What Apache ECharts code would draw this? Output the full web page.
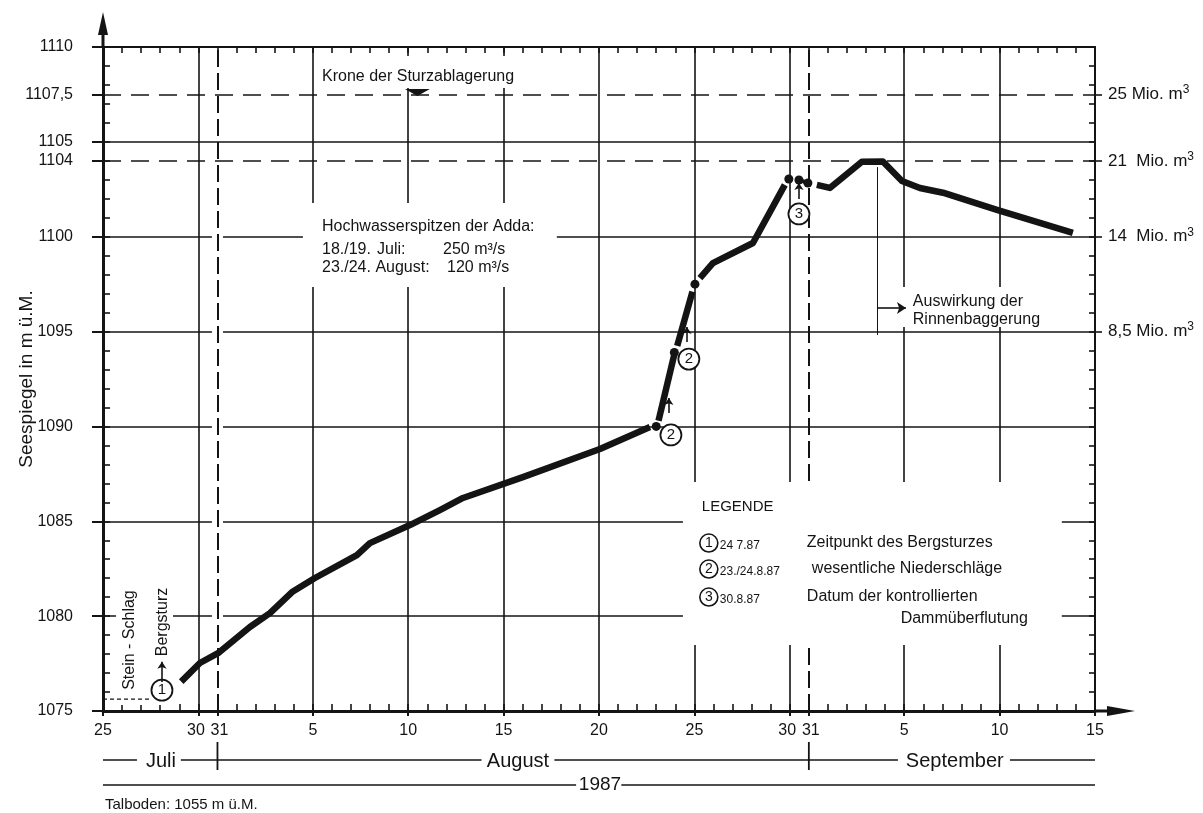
<!DOCTYPE html>
<html>
<head>
<meta charset="utf-8">
<script src="https://cdn.jsdelivr.net/npm/echarts@6/dist/echarts.min.js"></script>
<style>
html,body{margin:0;padding:0;background:#fff;}
#chart{width:1203px;height:813px;}
</style>
</head>
<body>
<div id="chart"></div>
<script>
// ---------------- DATA (x = day index, 0 = 25 July 1987) ----------------
const xTickDays   = [0, 5, 6, 11, 16, 21, 26, 31, 36, 37, 42, 47, 52];
const xTickLabels = ['25', '30', '31', '5', '10', '15', '20', '25', '30', '31', '5', '10', '15'];
const yTickValues = [1075, 1080, 1085, 1090, 1095, 1100, 1104, 1105, 1107.5, 1110];
const volumeLevels = [1107.5, 1104, 1100, 1095];
const volumeLabels = ['25 Mio. m', '21  Mio. m', '14  Mio. m', '8,5 Mio. m'];
const gridLevelsSolid  = [1080, 1085, 1090, 1095, 1100, 1105];
const gridLevelsDashed = [1104, 1107.5];
const gridDaysSolid    = [5, 11, 16, 21, 26, 31, 36, 42, 47];
const monthDividerDays = [6, 37];

// lake level (m ü.M.)
const levelRise1 = [[4.1,1076.55],[5.08,1077.53],[6.03,1078.05],[7.7,1079.43],[8.75,1080.16],[9.91,1081.27],
  [11.11,1082.01],[13.31,1083.22],[13.99,1083.85],[16.09,1084.8],[17.66,1085.59],[18.87,1086.23],
  [22.01,1087.33],[26.05,1088.81],[28.67,1089.97]];
const levelRise2 = [[29.12,1090.3],[29.95,1093.8]];
const levelRise3 = [[30.1,1094.25],[30.9,1097.1]];
const levelRise4 = [[31.29,1097.82],[31.97,1098.61],[34.07,1099.67],[35.74,1102.73]];
const levelOverflow = [[35.95,1103.04],[36.48,1102.99],[36.95,1102.83]];
const levelAfter = [[37.42,1102.73],[38.1,1102.57],[39.78,1103.95],[40.88,1103.97],[41.88,1102.94],
  [42.82,1102.57],[44.03,1102.32],[46.86,1101.41],[50.84,1100.2]];
const measuredPoints = [[29.0,1090.0],[29.95,1093.9],[31.03,1097.5],[35.95,1103.04],[36.48,1102.99],[36.95,1102.83]];
const eventMarks = [[3.09,1076.1,'1'],[29.77,1089.55,'2'],[30.71,1093.55,'2'],[36.48,1101.2,'3']];
const eventArrows = [[3.09,1076.53,3.09,1077.6],[29.66,1090.71,29.66,1091.5],[30.61,1094.45,30.61,1095.24],[36.48,1101.99,36.48,1102.83]];

// ---------------- STYLE ----------------
const INK = '#141414';
const FONT = "'Liberation Sans', Arial, Helvetica, sans-serif";

const chart = echarts.init(document.getElementById('chart'));

function tickLabelFor(v) {
  const i = xTickDays.findIndex(d => Math.abs(d - v) < 1e-6);
  if (i < 0) return '';
  const t = xTickLabels[i];
  if (i + 1 < xTickDays.length && xTickDays[i + 1] - v === 1) return '{l|' + t + '}';
  if (i > 0 && v - xTickDays[i - 1] === 1) return '{r|' + t + '}';
  return t;
}

const lineSeg = (data) => ({
  type: 'line', data, symbol: 'none', z: 3, silent: true,
  lineStyle: {color: INK, width: 6.5, cap: 'butt', join: 'round'}
});

const tickFont = {color: INK, fontSize: 16, fontFamily: FONT};

const option = {
  animation: false,
  backgroundColor: '#fff',
  grid: {left: 103, right: 108, top: 47, bottom: 102, outerBoundsMode: 'none', containLabel: false},
  xAxis: [
    {type: 'value', position: 'bottom', min: 0, max: 52,
      axisLine: {onZero: false, lineStyle: {color: INK, width: 3}},
      axisTick: {customValues: xTickDays, length: 5, lineStyle: {color: INK, width: 2}},
      axisLabel: Object.assign({customValues: xTickDays, formatter: tickLabelFor, margin: 12,
        rich: {l: Object.assign({padding: [0, 5, 0, 0]}, tickFont), r: Object.assign({padding: [0, 0, 0, 4]}, tickFont)}}, tickFont),
      splitLine: {show: false}},
    {type: 'value', position: 'bottom', min: 0, max: 52, interval: 1,
      axisLine: {show: false, onZero: false},
      axisTick: {inside: true, length: 7, lineStyle: {color: INK, width: 1.6}},
      axisLabel: {show: false}, splitLine: {show: false}},
    {type: 'value', position: 'top', min: 0, max: 52, interval: 1,
      axisLine: {onZero: false, lineStyle: {color: INK, width: 2}},
      axisTick: {inside: true, length: 6, lineStyle: {color: INK, width: 1.6}},
      axisLabel: {show: false}, splitLine: {show: false}}
  ],
  yAxis: [
    {type: 'value', position: 'left', min: 1075, max: 1110,
      name: 'Seespiegel in m ü.M.', nameLocation: 'middle', nameGap: 67, nameRotate: 90,
      nameMoveOverlap: false,
      nameTextStyle: {color: INK, fontSize: 19, fontFamily: FONT},
      axisLine: {onZero: false, lineStyle: {color: INK, width: 3}},
      axisTick: {customValues: yTickValues, length: 11, lineStyle: {color: INK, width: 2}},
      axisLabel: Object.assign({customValues: yTickValues, formatter: v => String(v).replace('.', ','), margin: 30}, tickFont),
      splitLine: {show: false}},
    {type: 'value', position: 'left', min: 1075, max: 1110, interval: 1,
      axisLine: {show: false, onZero: false},
      axisTick: {inside: true, length: 7, lineStyle: {color: INK, width: 1.6}},
      axisLabel: {show: false}, splitLine: {show: false}},
    {type: 'value', position: 'right', min: 1075, max: 1110, interval: 1,
      axisLine: {onZero: false, lineStyle: {color: INK, width: 2}},
      axisTick: {inside: true, length: 6, lineStyle: {color: INK, width: 1.6}},
      axisLabel: {show: false}, splitLine: {show: false}},
    {type: 'value', position: 'right', min: 1075, max: 1110,
      axisLine: {show: false, onZero: false},
      axisTick: {customValues: volumeLevels, length: 7, lineStyle: {color: INK, width: 1.6}},
      axisLabel: {customValues: volumeLevels, margin: 13,
        formatter: v => '{a|' + volumeLabels[volumeLevels.indexOf(v)] + '}{s|3}',
        rich: {a: {fontSize: 17, fontFamily: FONT, color: INK},
               s: {fontSize: 12, fontFamily: FONT, color: INK, padding: [0, 0, 9, 0]}}},
      splitLine: {show: false}}
  ],
  series: [
    {type: 'line', data: [], silent: true,
      markLine: {z: 1, silent: true, symbol: 'none', label: {show: false}, emphasis: {disabled: true},
        lineStyle: {color: INK, width: 1.6, type: 'solid'},
        data: [].concat(
          gridLevelsSolid.map(v => ({yAxis: v})),
          gridLevelsDashed.map(v => ({yAxis: v, lineStyle: {color: INK, width: 1.6, type: [18, 10]}})),
          gridDaysSolid.map(d => ({xAxis: d}))
        )}},
    {type: 'line', data: [], silent: true,
      markLine: {z: 1.7, silent: true, symbol: 'none', label: {show: false}, emphasis: {disabled: true},
        lineStyle: {color: INK, width: 2, type: [17, 6]},
        data: monthDividerDays.map(d => ({xAxis: d}))}},
    lineSeg(levelRise1), lineSeg(levelRise2), lineSeg(levelRise3), lineSeg(levelRise4), lineSeg(levelAfter),
    {type: 'line', data: levelOverflow, symbol: 'none', z: 3, silent: true,
      lineStyle: {color: INK, width: 4, type: [4, 3]}},
    {type: 'scatter', data: measuredPoints, symbol: 'circle', symbolSize: 9, z: 4, silent: true,
      itemStyle: {color: INK, opacity: 1}},
    {type: 'scatter', z: 6, silent: true,
      data: eventMarks.map(m => ({value: [m[0], m[1]], label: {formatter: m[2]}})),
      symbol: 'circle', symbolSize: 21,
      itemStyle: {color: '#fff', borderColor: INK, borderWidth: 1.8, opacity: 1},
      label: {show: true, position: 'inside', color: INK, fontSize: 15, fontFamily: FONT}},
    {type: 'line', data: [], silent: true,
      markLine: {z: 8, silent: true, symbol: ['none', 'arrow'], symbolSize: 7, label: {show: false},
        emphasis: {disabled: true},
        lineStyle: {color: INK, width: 1.6, type: 'solid'},
        data: eventArrows.map(a => [{coord: [a[0], a[1]]}, {coord: [a[2], a[3]]}]).concat([
          [{coord: [40.57, 1103.67], symbol: 'none'}, {coord: [40.57, 1094.82], symbol: 'none', lineStyle: {color: INK, width: 1, type: 'solid'}}],
          [{coord: [40.57, 1096.24]}, {coord: [42.09, 1096.24], symbolSize: 9}]
        ])}}
  ]
};
chart.setOption(option);

// ---------------- annotations (positions through the axes) ----------------
(function () {
  const P = (d, v) => chart.convertToPixel({xAxisIndex: 0, yAxisIndex: 0}, [d, v]);
  const g = [];
  function T(x, y, text, o) {
    o = o || {};
    g.push({type: 'text', x, y, z: 20, silent: true, rotation: o.rot || 0,
      style: {text, fill: INK, font: (o.size || 16) + 'px ' + FONT,
        textAlign: o.align || 'left', align: o.align || 'left',
        textVerticalAlign: 'middle', verticalAlign: 'middle'}});
  }
  function Ln(x1, y1, x2, y2, w, dash) {
    g.push({type: 'line', z: 20, silent: true, shape: {x1, y1, x2, y2},
      style: {stroke: INK, lineWidth: w || 1.6, lineDash: dash || null}});
  }
  function Poly(points) {
    g.push({type: 'polygon', z: 20, silent: true, shape: {points}, style: {fill: INK}});
  }
  function WhiteBox(d1, v1, d2, v2, z) {
    const a = P(d1, v1), b = P(d2, v2);
    g.push({type: 'rect', z: z || 1.8, silent: true,
      shape: {x: Math.min(a[0], b[0]), y: Math.min(a[1], b[1]), width: Math.abs(b[0] - a[0]), height: Math.abs(b[1] - a[1])},
      style: {fill: '#fff'}});
  }

  // label areas interrupting the grid
  WhiteBox(11.27, 1109.53, 22.64, 1107.84);
  WhiteBox(10.48, 1101.78, 23.79, 1097.35);
  WhiteBox(40.93, 1097.35, 50.26, 1095.24);
  WhiteBox(30.40, 1087.07, 50.26, 1078.48);
  WhiteBox(0.68, 1081.74, 3.67, 1075.31);
  // small breaks of the level lines at the 31 July divider
  [1080, 1085, 1090, 1095, 1100].forEach(v => WhiteBox(5.71, v + 0.12, 6.29, v - 0.12, 1.5));

  const origin = P(0, 1075), corner = P(52, 1110);
  const ax = origin[0], ay = origin[1], rightX = corner[0], topY = corner[1];
  Ln(ax, topY, ax, topY - 13, 3);
  Poly([[ax - 5, topY - 12], [ax + 5, topY - 12], [ax, topY - 35]]);
  Ln(rightX, ay, rightX + 13, ay, 3);
  Poly([[rightX + 12, ay - 5], [rightX + 12, ay + 5], [rightX + 40, ay]]);

  monthDividerDays.forEach(d => { const x = P(d, 1075)[0]; Ln(x, ay + 31, x, ay + 59, 1.8); });
  const rowM = ay + 49, rowY = ay + 74;
  [[0, 1.78], [4.08, 19.84], [23.66, 41.67], [47.54, 52]].forEach(s => Ln(P(s[0], 1075)[0], rowM, P(s[1], 1075)[0], rowM, 1.5));
  [[0, 24.8], [27.17, 52]].forEach(s => Ln(P(s[0], 1075)[0], rowY, P(s[1], 1075)[0], rowY, 1.5));
  T(P(3.04, 1075)[0], rowM + 1, 'Juli', {size: 20, align: 'center'});
  T(P(21.75, 1075)[0], rowM + 1, 'August', {size: 20, align: 'center'});
  T(P(44.65, 1075)[0], rowM + 1, 'September', {size: 20, align: 'center'});
  T(P(26.05, 1075)[0], rowY, '1987', {size: 19, align: 'center'});
  T(ax + 2, ay + 94, 'Talboden: 1055 m ü.M.', {size: 15});

  let p = P(11.48, 1108.42); T(p[0], p[1], 'Krone der Sturzablagerung');
  p = P(16.48, 1107.42); Poly([[p[0] - 12.5, p[1] - 7], [p[0] + 12.5, p[1] - 7], [p[0], p[1]]]);

  p = P(11.48, 1100.51);
  T(p[0], p[1], 'Hochwasserspitzen der Adda:');
  T(p[0], p[1] + 23, '18./19.'); T(p[0] + 55, p[1] + 23, 'Juli:'); T(p[0] + 121, p[1] + 23, '250 m³/s');
  T(p[0], p[1] + 41, '23./24. August:'); T(p[0] + 125, p[1] + 41, '120 m³/s');

  p = P(42.45, 1096.56);
  T(p[0], p[1], 'Auswirkung der'); T(p[0], p[1] + 18, 'Rinnenbaggerung');

  p = P(3.12, 1079.69); T(p[0], p[1], 'Bergsturz', {align: 'center', rot: Math.PI / 2});
  p = P(1.39, 1078.74); T(p[0], p[1], 'Stein - Schlag', {align: 'center', rot: Math.PI / 2});
  const s1 = P(0, 1075.63), s2 = P(2.46, 1075.63); Ln(s1[0], s1[1], s2[0], s2[1], 1.2, [4, 3]);

  const L = P(31.39, 1085.75);
  T(L[0], L[1], 'LEGENDE', {size: 15});
  const legendRows = [['1', '24 7.87', 'Zeitpunkt des Bergsturzes', 105, 36],
                      ['2', '23./24.8.87', 'wesentliche Niederschläge', 110, 62],
                      ['3', '30.8.87', 'Datum der kontrollierten', 105, 90]];
  legendRows.forEach(r => {
    g.push({type: 'circle', z: 20, silent: true, shape: {cx: L[0] + 7, cy: L[1] + r[4], r: 9},
      style: {fill: '#fff', stroke: INK, lineWidth: 1.6}});
    T(L[0] + 7, L[1] + r[4] + 0.5, r[0], {size: 14, align: 'center'});
    T(L[0] + 18, L[1] + r[4] + 3, r[1], {size: 12});
    T(L[0] + r[3], L[1] + r[4], r[2], {size: 16});
  });
  T(L[0] + 326, L[1] + 112, 'Dammüberflutung', {size: 16, align: 'right'});

  chart.setOption({graphic: {elements: g}});
})();
</script>
</body>
</html>
